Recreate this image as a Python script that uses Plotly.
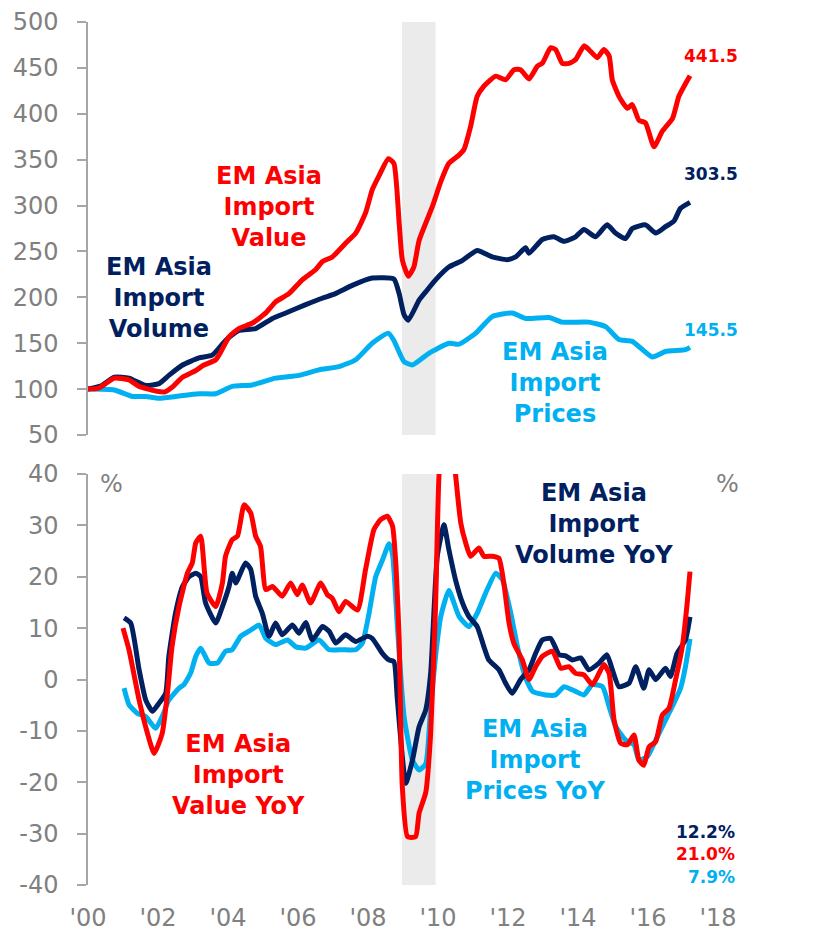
import plotly.graph_objects as go

# ---------------- data (decimal year, value) ----------------
value_idx = [(2000.0,100),(2000.3,101),(2000.75,112),(2001.17,110),(2001.46,103),(2001.93,98),(2002.2,97),
    (2002.4,102),(2002.7,113),(2003.07,120),(2003.3,126),(2003.65,132),(2003.8,141),(2004.03,157),(2004.31,166),
    (2004.7,172),(2005.08,183),(2005.36,195),(2005.74,204),(2006.12,219),(2006.5,230),(2006.7,239),(2006.98,244),
    (2007.36,259),(2007.65,270),(2007.93,292),(2008.12,317),(2008.31,332),(2008.58,351),(2008.74,346),(2008.89,281),
    (2008.98,241),(2009.15,223),(2009.31,233),(2009.46,262),(2009.84,299),(2010.08,326),(2010.31,346),(2010.6,355),
    (2010.74,361),(2010.93,386),(2011.12,419),(2011.31,430),(2011.65,441),(2011.93,437),(2012.17,448),(2012.36,448),
    (2012.6,438),(2012.84,452),(2012.98,455),(2013.22,472),(2013.36,470),(2013.55,455),(2013.74,455),(2013.93,459),
    (2014.17,474),(2014.31,470),(2014.55,461),(2014.74,470),(2014.89,463),(2014.98,437),(2015.17,419),(2015.41,406),
    (2015.55,410),(2015.74,393),(2015.93,390),(2016.17,364),(2016.41,381),(2016.7,395),(2016.88,419),(2017.03,430),
    (2017.2,441.5)]

volume_idx = [(2000.0,100),(2000.4,104),(2000.75,113),(2001.17,112),(2001.65,104),(2002.03,106),(2002.31,115),
    (2002.69,126),(2003.17,134),(2003.55,137),(2003.93,153),(2004.31,164),(2004.79,166),(2005.27,177),(2005.65,183),
    (2006.22,192),(2006.69,199),(2007.07,204),(2007.55,213),(2008.12,221),(2008.74,220),(2008.89,204),(2009.03,181),
    (2009.15,175),(2009.46,197),(2009.65,206),(2009.93,219),(2010.31,233),(2010.69,240),(2011.12,251),(2011.55,244),
    (2011.98,241),(2012.22,244),(2012.5,254),(2012.6,248),(2012.98,263),(2013.31,266),(2013.6,261),(2013.93,266),
    (2014.17,274),(2014.5,266),(2014.83,279),(2015.07,270),(2015.36,264),(2015.55,275),(2015.93,279),(2016.22,270),
    (2016.5,277),(2016.74,283),(2016.93,297),(2017.2,303.5)]

prices_idx = [(2000.0,100),(2000.75,99),(2001.27,92),(2001.65,92),(2002.03,90),(2002.5,92),(2003.17,95),
    (2003.65,95),(2004.12,103),(2004.69,104.5),(2005.36,112),(2006.03,115),(2006.6,121),(2007.17,124.5),
    (2007.65,132),(2008.12,150),(2008.58,161),(2008.74,153),(2009.03,130),(2009.27,126.3),(2009.74,139),
    (2010.31,150),(2010.6,149),(2011.08,161),(2011.55,179),(2012.12,183),(2012.5,177),(2013.17,178),(2013.55,173),
    (2014.31,173),(2014.79,168),(2015.17,154),(2015.55,152),(2016.12,135),(2016.5,141),(2017.07,143),(2017.2,145.5)]

value_yoy = [(2001.0,10),(2001.17,5.8),(2001.46,-4),(2001.7,-10.5),(2001.89,-14.4),(2002.12,-10.5),(2002.27,-2.7),
    (2002.4,6.4),(2002.6,14.2),(2002.84,20.7),(2002.98,22.7),(2003.08,26.6),(2003.22,27.9),(2003.4,16.8),
    (2003.65,14.2),(2003.84,18.8),(2003.93,24),(2004.12,27.2),(2004.27,27.9),(2004.46,34),(2004.65,32.4),
    (2004.79,27.9),(2004.93,25.9),(2005.08,17.5),(2005.27,18.1),(2005.55,16.2),(2005.79,18.8),(2005.98,16.5),
    (2006.12,18.4),(2006.36,14.9),(2006.65,18.8),(2006.84,16.5),(2006.98,15.8),(2007.17,13.2),(2007.36,15.2),
    (2007.7,13.5),(2007.93,21.4),(2008.17,29.2),(2008.36,31.1),(2008.55,31.8),(2008.7,29.9),(2008.8,22),
    (2008.89,8),(2008.98,-20.8),(2009.13,-30.6),(2009.36,-30.6),(2009.46,-26),(2009.65,-22),(2009.79,-10.5),
    (2009.93,14.2),(2010.03,40),(2010.2,52),(2010.35,50),(2010.5,40),(2010.65,30.5),(2010.79,26.6),(2010.93,24),
    (2011.17,25.6),(2011.31,24),(2011.55,24),(2011.74,23.6),(2011.88,18.8),(2012.03,11),(2012.17,7),(2012.41,3.8),
    (2012.6,0),(2012.79,2.5),(2012.98,4.5),(2013.27,5.5),(2013.51,2.2),(2013.74,2.5),(2013.93,1.2),(2014.17,0.9),
    (2014.41,-1),(2014.6,1.2),(2014.74,2.9),(2014.89,1.2),(2015.03,-7.9),(2015.22,-12.4),(2015.41,-12.7),
    (2015.6,-10.8),(2015.74,-15.7),(2015.88,-16.7),(2016.03,-13.1),(2016.22,-12.1),(2016.41,-6.9),(2016.6,-5.6),
    (2016.79,0),(2016.98,6.4),(2017.12,14.9),(2017.2,21.0)]

volume_yoy = [(2001.03,12),(2001.22,11),(2001.46,1.9),(2001.65,-4),(2001.84,-6.2),(2002.03,-4.6),(2002.22,-2.7),
    (2002.31,4.5),(2002.5,12.9),(2002.7,18.1),(2002.89,20),(2003.08,20.7),(2003.22,20),(2003.36,14.9),(2003.65,11),
    (2003.84,14.2),(2004.03,18.1),(2004.12,20.7),(2004.22,18.8),(2004.5,22.7),(2004.65,21.4),(2004.79,16.2),
    (2004.98,12.9),(2005.17,8.4),(2005.36,11),(2005.55,8.7),(2005.84,10.6),(2006.03,9),(2006.22,11.1),(2006.41,7.7),
    (2006.7,10.3),(2006.89,9.4),(2007.08,7.1),(2007.36,8.7),(2007.65,7.4),(2007.98,8.4),(2008.12,8),(2008.41,5.1),
    (2008.6,3.8),(2008.74,3.5),(2008.84,-4),(2009.08,-20.2),(2009.27,-15.7),(2009.46,-9.2),(2009.65,-5.9),
    (2009.79,1.2),(2009.98,24),(2010.17,30.1),(2010.31,25.3),(2010.5,19.4),(2010.7,14.9),(2010.88,12.3),
    (2011.12,10.3),(2011.31,6.4),(2011.45,3.8),(2011.74,1.9),(2011.93,-0.7),(2012.12,-2.7),(2012.36,0),(2012.6,1.9),
    (2012.79,5.1),(2012.98,7.7),(2013.22,8),(2013.46,4.8),(2013.65,4.6),(2013.84,3.8),(2014.08,4.2),(2014.31,1.9),
    (2014.6,3.2),(2014.83,4.8),(2014.98,1.9),(2015.17,-1.4),(2015.46,-0.7),(2015.65,2.5),(2015.88,-1.7),(2016.03,1.9),
    (2016.22,0),(2016.5,2.2),(2016.64,0.6),(2016.83,5.1),(2017.07,7.7),(2017.2,12.2)]

prices_yoy = [(2001.03,-1.7),(2001.17,-4.9),(2001.41,-6.6),(2001.65,-7.2),(2001.93,-9.5),(2002.12,-7.2),(2002.31,-4),
    (2002.6,-1.7),(2002.74,-1),(2002.93,1.2),(2003.08,4.5),(2003.22,6.1),(2003.46,3.2),(2003.7,3.2),(2003.93,5.5),
    (2004.12,5.8),(2004.36,8.4),(2004.6,9.4),(2004.89,10.6),(2005.08,8),(2005.36,6.8),(2005.7,7.7),(2005.93,6.4),
    (2006.22,6.1),(2006.6,7.7),(2006.89,5.8),(2007.27,5.8),(2007.65,5.8),(2007.84,7.1),(2008.03,12.9),(2008.22,20),
    (2008.41,23.2),(2008.6,26.4),(2008.7,24.4),(2008.84,10.3),(2009.03,-7.2),(2009.27,-15.7),(2009.46,-17.6),
    (2009.65,-16.4),(2009.79,-5.3),(2009.93,4.5),(2010.08,12.3),(2010.31,17.3),(2010.6,12.3),(2010.88,10.3),
    (2011.12,12.9),(2011.36,16.8),(2011.65,20.7),(2011.84,19.4),(2012.08,12.9),(2012.27,6.4),(2012.46,1.2),
    (2012.7,-2.3),(2013.08,-3),(2013.36,-3),(2013.6,-1.4),(2013.93,-2.3),(2014.17,-3),(2014.41,-1),(2014.7,-1.4),
    (2014.89,-5.3),(2015.08,-9.2),(2015.36,-11.8),(2015.6,-12.7),(2015.74,-15.7),(2015.98,-15),(2016.22,-11.8),
    (2016.5,-7.9),(2016.74,-4.6),(2016.93,-1.7),(2017.07,2.5),(2017.2,7.9)]

recession_start = 2008.97
recession_end = 2009.93

tick_years = [2000, 2002, 2004, 2006, 2008, 2010, 2012, 2014, 2016, 2018]
tick_labels = ["'00", "'02", "'04", "'06", "'08", "'10", "'12", "'14", "'16", "'18"]
index_ticks = [50, 100, 150, 200, 250, 300, 350, 400, 450, 500]
yoy_ticks = [-40, -30, -20, -10, 0, 10, 20, 30, 40]
yoy_tick_labels = ["-40", "-30", "-20", "-10", "0", "10", "20", "30", "40"]

last_labels_top = ["441.5", "303.5", "145.5"]
last_labels_bottom = ["12.2%", "21.0%", "7.9%"]

# ---------------- styling ----------------
RED = "#FF0000"
NAVY = "#002060"
LBLUE = "#00B0F0"
GRAY_TXT = "#808080"
GRAY_LINE = "#A6A6A6"
FONT = "DejaVu Sans"
XR = [2000, 2019]

W, H = 827, 931
ML, MR, MT, MB = 88, 74, 22, 46
plot_h = H - MT - MB
top_dom = [(885 - 435) / plot_h, 1.0]
bot_dom = [0.0, (885 - 474) / plot_h]
Y2R = [-40, 40]
zero_pos = bot_dom[0] + (0 - Y2R[0]) / (Y2R[1] - Y2R[0]) * (bot_dom[1] - bot_dom[0])

fig = go.Figure()


def add(series, color, xa, ya):
    xs, ys = zip(*series)
    fig.add_trace(go.Scatter(x=list(xs), y=list(ys), mode="lines", xaxis=xa, yaxis=ya,
                             line=dict(color=color, width=5, shape="spline", smoothing=0.5),
                             showlegend=False, hoverinfo="skip"))


add(prices_idx, LBLUE, "x", "y")
add(volume_idx, NAVY, "x", "y")
add(value_idx, RED, "x", "y")
add(prices_yoy, LBLUE, "x2", "y2")
add(volume_yoy, NAVY, "x2", "y2")
add(value_yoy, RED, "x2", "y2")

# recession shading
for xref, yref in [("x", "y domain"), ("x2", "y2 domain")]:
    fig.add_shape(type="rect", xref=xref, yref=yref,
                  x0=recession_start, x1=recession_end, y0=0, y1=1,
                  fillcolor="#EBEBEB", line_width=0, layer="below")

yaxis_common = dict(showgrid=False, zeroline=False, showline=True, linecolor=GRAY_LINE, linewidth=1.5,
                    ticks="outside", ticklen=9, tickcolor=GRAY_LINE, tickwidth=1.5, automargin=False,
                    tickfont=dict(family=FONT, size=24, color=GRAY_TXT), ticklabelstandoff=14)

fig.update_layout(
    width=W, height=H, margin=dict(l=ML, r=MR, t=MT, b=MB, autoexpand=False),
    paper_bgcolor="white", plot_bgcolor="white", showlegend=False,
    xaxis=dict(domain=[0, 1], range=XR, anchor="y", visible=False, automargin=False),
    yaxis=dict(domain=top_dom, range=[50, 500], tickvals=index_ticks, anchor="x", side="left", **yaxis_common),
    yaxis3=dict(range=[50, 500], tickvals=index_ticks, overlaying="y", anchor="x", side="right", **yaxis_common),
    xaxis2=dict(domain=[0, 1], range=XR, anchor="y2", showgrid=False, zeroline=False, showline=False,
                tickvals=tick_years, ticktext=tick_labels, ticks="outside", ticklen=11, automargin=False,
                tickcolor="rgba(0,0,0,0)", tickfont=dict(family=FONT, size=24, color=GRAY_TXT)),
    xaxis3=dict(range=XR, overlaying="x2", anchor="free", position=zero_pos, side="bottom",
                showgrid=False, zeroline=False, showline=True, linecolor=GRAY_LINE, linewidth=1.5,
                ticks="outside", ticklen=7, tickcolor=GRAY_LINE, tickwidth=1.5, dtick=1, tick0=2000,
                showticklabels=False, automargin=False),
    yaxis2=dict(domain=bot_dom, range=Y2R, tickvals=yoy_ticks, ticktext=yoy_tick_labels,
                anchor="x2", side="left", **yaxis_common),
    yaxis4=dict(range=Y2R, tickvals=yoy_ticks, ticktext=yoy_tick_labels,
                overlaying="y2", anchor="x2", side="right", **yaxis_common),
)


def ann(text, x, y, color, xref="x", yref="y", size=24, bold=True, xanchor="center"):
    fig.add_annotation(text=f"<b>{text}</b>" if bold else text, x=x, y=y, xref=xref, yref=yref,
                       showarrow=False, xanchor=xanchor, yanchor="middle",
                       align="center" if xanchor == "center" else "right",
                       font=dict(family=FONT, size=size, color=color))


# top panel annotations
ann("EM Asia<br>Import<br>Value", 2005.17, 298.6, RED)
ann("EM Asia<br>Import<br>Volume", 2002.03, 199, NAVY)
ann("EM Asia<br>Import<br>Prices", 2013.34, 106.7, LBLUE)
ann(last_labels_top[0], 2017.8, 463.2, RED, size=17)
ann(last_labels_top[1], 2017.8, 334.6, NAVY, size=17)
ann(last_labels_top[2], 2017.8, 164.6, LBLUE, size=17)

# bottom panel annotations
ann("EM Asia<br>Import<br>Volume YoY", 2014.46, 30.3, NAVY, xref="x2", yref="y2")
ann("EM Asia<br>Import<br>Prices YoY", 2012.77, -15.65, LBLUE, xref="x2", yref="y2")
ann("EM Asia<br>Import<br>Value YoY", 2004.31, -18.6, RED, xref="x2", yref="y2")
ann("%", 2000.66, 38.1, GRAY_TXT, xref="x2", yref="y2", bold=False)
ann("%", 2018.26, 38.1, GRAY_TXT, xref="x2", yref="y2", bold=False)
ann(last_labels_bottom[0], 2018.54, -29.7, NAVY, xref="x2", yref="y2", size=17, xanchor="right")
ann(last_labels_bottom[1], 2018.54, -34.0, RED, xref="x2", yref="y2", size=17, xanchor="right")
ann(last_labels_bottom[2], 2018.54, -38.4, LBLUE, xref="x2", yref="y2", size=17, xanchor="right")

fig.write_html("out.html", config={"displayModeBar": False},
               post_script="document.body.style.margin='0';document.body.style.overflow='hidden';")
